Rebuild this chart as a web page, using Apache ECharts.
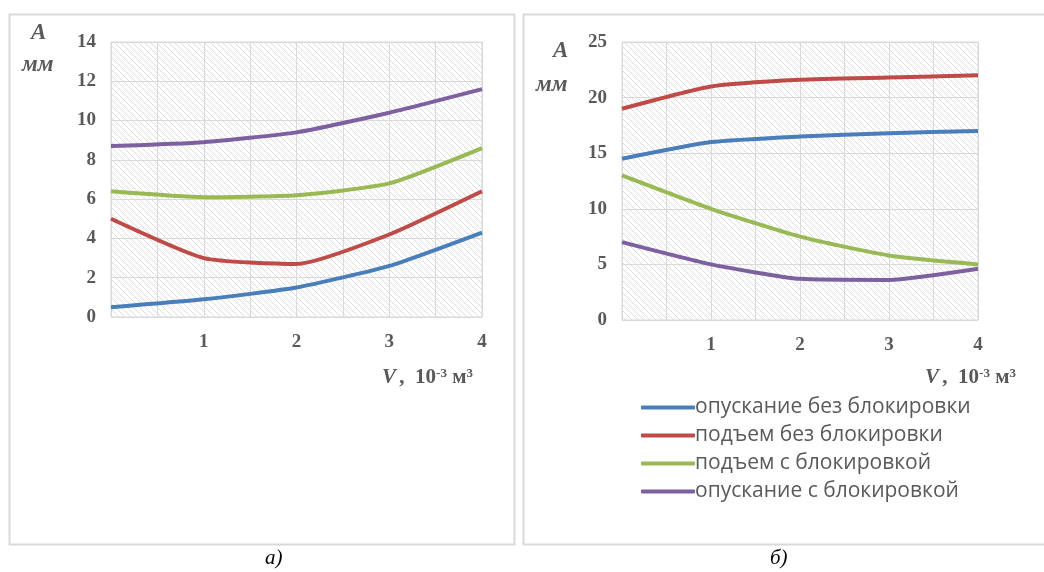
<!DOCTYPE html>
<html lang="ru">
<head>
    <meta charset="UTF-8">
    <title>Амплитуда</title>
    <script src="https://cdn.jsdelivr.net/npm/echarts@6/dist/echarts.min.js"></script>
    <style>
        html, body { margin: 0; padding: 0; background: #fff; }
        #main { width: 1044px; height: 572px; }
    </style>
</head>
<body>
<div id="main"></div>
<script type="text/javascript">
    var names = ['опускание без блокировки', 'подъем без блокировки', 'подъем с блокировкой', 'опускание с блокировкой']
    var colors = ['#4a7ebb', '#be4b48', '#98b954', '#7d60a0']
    var xValues = [0, 1, 2, 3, 4]

    // рисунок а)
    var leftDownNoLock = [0.5, 0.9, 1.5, 2.6, 4.3]
    var leftUpNoLock = [5.0, 3.0, 2.7, 4.2, 6.4]
    var leftUpLock = [6.4, 6.1, 6.2, 6.8, 8.6]
    var leftDownLock = [8.7, 8.9, 9.4, 10.4, 11.6]

    // рисунок б)
    var rightDownNoLock = [14.5, 16.0, 16.5, 16.8, 17.0]
    var rightUpNoLock = [19.0, 21.0, 21.6, 21.8, 22.0]
    var rightUpLock = [13.0, 10.0, 7.5, 5.8, 5.0]
    var rightDownLock = [7.0, 5.0, 3.7, 3.6, 4.6]

    // штриховка фона
    var hatch = document.createElement('canvas')
    hatch.width = 6
    hatch.height = 6
    var ctx = hatch.getContext('2d')
    ctx.strokeStyle = '#dcdcdc'
    ctx.lineWidth = 1
    ctx.beginPath()
    ctx.moveTo(-1, -1); ctx.lineTo(7, 7)
    ctx.moveTo(-1, 5); ctx.lineTo(1, 7)
    ctx.moveTo(5, -1); ctx.lineTo(7, 1)
    ctx.stroke()

    var axisFont = {fontFamily: 'Liberation Serif', fontWeight: 'bold', fontSize: 19, color: '#595959'}

    function pairs(ys) {
        var out = []
        for (var i = 0; i < ys.length; i++) out.push([xValues[i], ys[i]])
        return out
    }

    function makeSeries(list, gi) {
        var res = []
        for (var i = 0; i < list.length; i++) {
            res.push({
                name: names[i], type: 'line', xAxisIndex: gi, yAxisIndex: gi,
                data: pairs(list[i]), smooth: 0.18, showSymbol: false,
                lineStyle: {width: 4, color: colors[i]}, itemStyle: {color: colors[i]}
            })
        }
        return res
    }

    function xAxis(gi) {
        return {
            type: 'value', gridIndex: gi, min: 0, max: 4, interval: 0.5,
            axisLine: {show: false}, axisTick: {show: false},
            axisLabel: Object.assign({margin: 16, formatter: function (v) {
                return (v > 0 && v % 1 === 0) ? String(v) : ''
            }}, axisFont),
            splitLine: {show: true, lineStyle: {color: '#d9d9d9', width: 1}}
        }
    }

    function yAxis(gi, max, step) {
        return {
            type: 'value', gridIndex: gi, min: 0, max: max, interval: step,
            axisLine: {show: false}, axisTick: {show: false},
            axisLabel: Object.assign({margin: 15}, axisFont),
            splitLine: {show: true, lineStyle: {color: '#d9d9d9', width: 1}}
        }
    }

    function axisName(x, y) {
        var base = {fontFamily: 'Liberation Serif', fontWeight: 'bold', fontSize: 21, fill: '#595959'}
        return {
            type: 'text', left: x, top: y,
            style: {
                text: '{v|V} {b|,  10}{s|-3}{b| м}{s|3}',
                rich: {
                    v: Object.assign({fontStyle: 'italic'}, base),
                    b: base,
                    s: {fontFamily: 'Liberation Serif', fontWeight: 'bold', fontSize: 13, fill: '#595959', verticalAlign: 'top', padding: [0, 0, 9, 0]}
                }
            }
        }
    }

    function yName(x, y, t) {
        return {
            type: 'text', left: x, top: y,
            style: {text: t, fontFamily: 'Liberation Serif', fontStyle: 'italic', fontWeight: 'bold', fontSize: 23, fill: '#595959'}
        }
    }

    var myChart = echarts.init(document.getElementById('main'))

    var option = {
        animation: false,
        grid: [
            {left: 111, top: 42, width: 371, height: 275, show: true, borderColor: '#d9d9d9', borderWidth: 1,
                backgroundColor: {image: hatch, repeat: 'repeat'}},
            {left: 622, top: 42, width: 356, height: 278, show: true, borderColor: '#d9d9d9', borderWidth: 1,
                backgroundColor: {image: hatch, repeat: 'repeat'}}
        ],
        xAxis: [xAxis(0), xAxis(1)],
        yAxis: [yAxis(0, 14, 2), yAxis(1, 25, 5)],
        legend: {
            data: names, orient: 'vertical', left: 636, top: 392,
            icon: 'roundRect', itemWidth: 54, itemHeight: 4, itemGap: 7,
            textStyle: {fontFamily: 'Open Sans', fontSize: 21, lineHeight: 20, color: '#595959', padding: [0, 0, 0, -5]}
        },
        graphic: [
            {type: 'rect', shape: {x: 9.5, y: 14.5, width: 505, height: 530}, style: {fill: 'none', stroke: '#d9d9d9', lineWidth: 2}, silent: true},
            {type: 'rect', shape: {x: 523.5, y: 14.5, width: 530, height: 530}, style: {fill: 'none', stroke: '#d9d9d9', lineWidth: 2}, silent: true},
            yName(31, 22, 'A'),
            yName(22, 54, 'мм'),
            yName(553, 40, 'A'),
            yName(536, 74, 'мм'),
            axisName(382, 367),
            axisName(925, 367),
            {type: 'text', left: 265, top: 548, style: {text: 'а)', fontFamily: 'Liberation Serif', fontStyle: 'italic', fontSize: 21, fill: '#000'}},
            {type: 'text', left: 770, top: 548, style: {text: 'б)', fontFamily: 'Liberation Serif', fontStyle: 'italic', fontSize: 21, fill: '#000'}}
        ],
        series: makeSeries([leftDownNoLock, leftUpNoLock, leftUpLock, leftDownLock], 0)
            .concat(makeSeries([rightDownNoLock, rightUpNoLock, rightUpLock, rightDownLock], 1))
    }

    myChart.setOption(option)
</script>
</body>
</html>
